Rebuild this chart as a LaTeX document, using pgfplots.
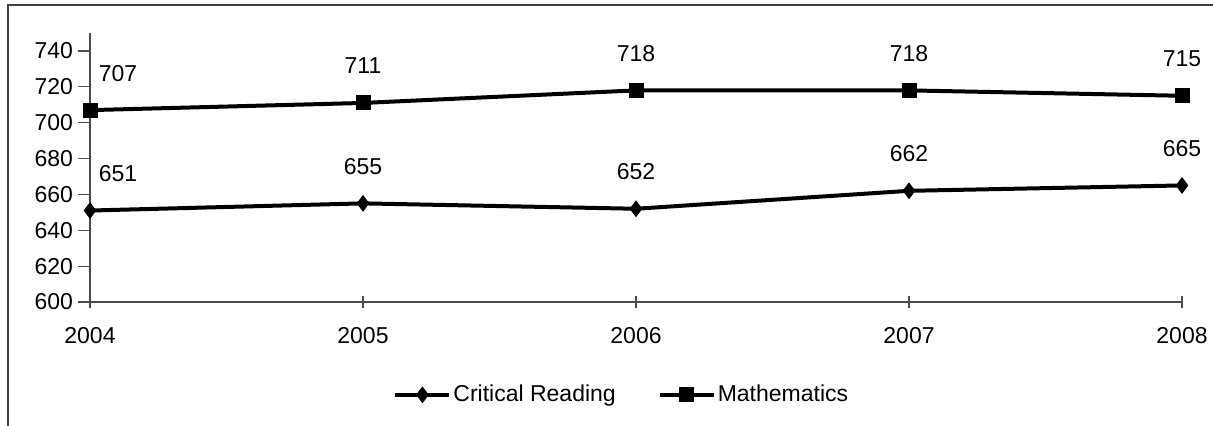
\documentclass[border=0pt]{standalone}
\usepackage{fontspec}
\setmainfont{Liberation Sans}
\usepackage{pgfplots}
\pgfplotsset{compat=1.18}

\begin{document}
\begin{tikzpicture}[font=\fontsize{11.5}{13}\selectfont]
  % page = 1213 x 425 px at 0.5pt/px
  \path[use as bounding box] (0,0) rectangle (606.5pt,212.5pt);
  \draw[black!75, line width=0.6pt] (4pt,-20pt) rectangle (640pt,210pt);
  \begin{axis}[
      at={(45pt,61.5pt)}, anchor=south west,
      scale only axis,
      width=546pt, height=134.5pt,
      xmin=2004, xmax=2008,
      ymin=600, ymax=750,
      xtick={2004,2005,2006,2007,2008},
      ytick={600,620,...,740},
      axis x line=bottom, axis y line=left,
      axis line style={-, black!70, line width=0.6pt},
      every tick/.style={black!70, line width=0.6pt},
      xtick align=center, ytick align=outside,
      major tick length=6pt,
      /pgf/number format/assume math mode=true,
      /pgf/number format/1000 sep={},
      xticklabel style={yshift=-6pt},
      yticklabel style={xshift=1pt},
      font=\fontsize{11.5}{13}\selectfont,
      tick label style={font=\fontsize{11.5}{13}\selectfont},
      nodes near coords,
      every node near coord/.append style={anchor=center, yshift=18.5pt, black,
        font=\fontsize{11.5}{13}\selectfont},
      coordinate style/.condition={x<2004.5}{xshift=14pt},
      clip=false,
      legend columns=2,
      legend style={at={(0.487,-0.345)}, anchor=center, draw=none, fill=none,
        font=\fontsize{11.5}{13}\selectfont,
        /tikz/every even column/.append style={column sep=20pt},
        nodes={inner sep=1pt}},
      legend image code/.code={%
        \draw[mark repeat=2, mark phase=2, #1]
          plot coordinates {(0pt,0pt) (13.5pt,0pt) (27pt,0pt)};},
    ]
    \addplot[black, line width=2pt, mark=diamond*, mark size=3.8pt,
             mark options={solid, line width=0.5pt}]
      coordinates {(2004,651) (2005,655) (2006,652) (2007,662) (2008,665)};
    \addlegendentry{Critical Reading}
    \addplot[black, line width=2pt, mark=square*, mark size=3.5pt,
             mark options={solid, line width=0.5pt}]
      coordinates {(2004,707) (2005,711) (2006,718) (2007,718) (2008,715)};
    \addlegendentry{Mathematics}
  \end{axis}
\end{tikzpicture}
\end{document}
